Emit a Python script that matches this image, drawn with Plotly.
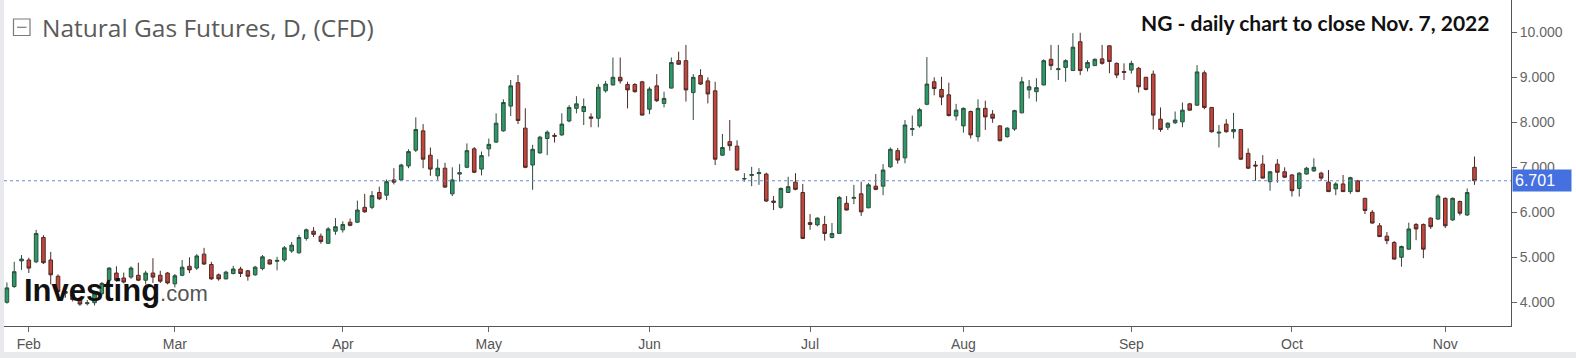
import pandas as pd
import plotly.graph_objects as go

# ---- data ----
dates = [d.strftime("%Y-%m-%d") for d in pd.bdate_range("2022-01-27", "2022-11-07")
         if d.strftime("%Y-%m-%d") != "2022-04-15"]

open_ = [4.00,4.35,4.92,4.94,4.90,5.44,4.94,4.58,4.24,4.17,4.09,3.97,3.99,4.19,4.49,4.65,4.54,4.56,4.60,4.49,
         4.65,4.60,4.65,4.41,4.60,4.80,4.76,5.07,4.84,4.61,4.52,4.64,4.74,4.70,4.61,4.75,4.94,4.91,4.94,5.14,
         5.10,5.42,5.58,5.47,5.31,5.58,5.61,5.78,5.78,6.11,6.11,6.44,6.38,6.72,6.72,7.03,7.38,7.81,7.27,6.81,
         6.98,6.41,6.85,7.00,7.41,6.96,7.41,7.56,7.81,8.36,8.88,7.87,7.05,7.32,7.64,7.71,7.72,8.03,8.31,8.24,
         8.12,8.09,8.70,8.83,9.00,8.84,8.84,8.90,8.29,8.81,8.42,8.76,9.37,9.37,8.66,9.04,8.92,8.70,7.27,7.57,
         7.47,6.74,6.82,6.86,6.85,6.25,6.11,6.44,6.67,6.44,5.77,5.72,5.73,5.44,5.53,6.20,6.31,6.41,6.10,6.58,
         6.58,7.01,7.37,7.21,7.84,7.92,8.40,8.90,8.73,8.61,8.14,7.92,8.24,7.68,8.31,8.18,7.92,7.68,7.85,8.21,
         8.72,8.68,8.83,9.40,9.17,9.22,9.15,9.79,9.21,9.26,9.41,9.70,9.31,9.13,9.16,9.20,9.00,9.07,8.07,7.89,
         7.99,8.01,8.41,8.38,9.10,8.33,7.76,7.96,7.79,7.84,7.31,7.05,7.07,6.68,7.07,6.90,6.83,6.53,6.85,6.92,
         6.87,6.67,6.52,6.63,6.46,6.70,6.31,6.00,5.70,5.47,5.33,5.00,5.18,5.73,5.73,5.87,5.85,6.31,5.83,6.24,
         5.94,7.00]
high = [4.44,4.90,5.05,4.99,5.61,5.49,5.12,4.62,4.30,4.22,4.12,4.05,4.22,4.45,4.78,4.80,4.66,4.80,4.88,4.70,
        4.98,4.70,4.67,4.63,4.94,5.00,5.07,5.21,4.90,4.64,4.70,4.81,4.79,4.72,4.81,5.05,4.96,5.01,5.25,5.34,
        5.50,5.64,5.67,5.53,5.67,5.87,5.80,5.86,6.26,6.41,6.47,6.57,6.73,6.98,7.08,7.40,8.11,7.96,7.44,7.18,
        7.10,7.00,7.07,7.53,7.45,7.35,7.64,8.20,8.51,8.94,9.05,8.31,7.50,7.70,7.82,7.76,8.20,8.38,8.58,8.53,
        8.20,8.85,8.92,9.44,9.44,8.90,8.87,8.92,8.79,9.07,8.68,9.44,9.57,9.72,9.07,9.18,9.00,8.90,7.74,8.05,
        7.60,6.87,7.01,6.98,6.88,6.36,6.55,6.79,6.87,6.63,5.96,5.89,5.92,5.76,6.36,6.36,6.61,6.68,6.65,6.85,
        7.07,7.44,7.43,8.05,8.15,8.32,9.45,9.00,9.01,8.88,8.41,8.33,8.26,8.51,8.48,8.27,7.94,7.89,8.28,9.01,
        8.94,8.98,9.40,9.72,9.72,9.40,9.98,9.99,9.38,9.42,9.72,9.71,9.33,9.31,9.37,9.23,9.01,9.15,8.33,8.00,
        8.24,8.44,8.43,9.27,9.15,8.34,7.94,8.07,8.21,7.85,7.42,7.14,7.27,6.92,7.18,7.00,6.85,6.89,7.01,7.20,
        6.90,6.94,6.67,6.83,6.79,6.72,6.32,6.05,5.76,5.56,5.36,5.26,5.77,5.76,5.75,5.89,6.40,6.33,6.33,6.26,
        6.53,7.24]
low = [3.97,4.32,4.72,4.65,4.87,4.85,4.40,4.20,4.10,4.02,3.92,3.93,3.93,4.15,4.45,4.46,4.42,4.52,4.47,4.40,
       4.43,4.43,4.40,4.33,4.58,4.65,4.72,4.83,4.50,4.48,4.51,4.62,4.56,4.48,4.59,4.71,4.84,4.71,4.90,5.10,
       5.08,5.37,5.45,5.30,5.30,5.50,5.55,5.69,5.76,5.99,6.07,6.27,6.27,6.62,6.70,6.98,7.34,6.98,6.81,6.72,
       6.54,6.36,6.68,6.98,6.87,6.82,7.24,7.54,7.79,8.14,7.96,6.98,6.50,7.30,7.27,7.55,7.70,8.00,8.20,7.94,
       7.89,7.89,8.66,8.82,8.86,8.31,8.66,8.15,8.18,8.45,8.33,8.75,9.28,8.46,8.05,8.83,8.42,7.05,7.25,7.37,
       6.92,6.68,6.58,6.61,6.23,6.05,6.08,6.43,6.49,5.41,5.61,5.69,5.37,5.42,5.52,6.04,6.18,5.92,6.09,6.49,
       6.38,6.99,7.08,7.09,7.70,7.88,8.38,8.60,8.38,8.13,8.04,7.77,7.64,7.57,7.83,7.99,7.58,7.66,7.81,8.20,
       8.53,8.46,8.82,9.16,8.94,8.90,9.14,9.05,9.13,9.25,9.28,9.09,8.98,8.94,9.08,8.66,8.71,7.84,7.79,7.83,
       7.96,7.89,8.26,8.37,8.29,7.77,7.44,7.77,7.64,7.16,6.96,6.70,6.75,6.48,6.66,6.76,6.35,6.35,6.84,6.90,
       6.70,6.45,6.38,6.45,6.41,6.45,5.96,5.75,5.45,5.29,4.95,4.79,5.17,5.38,4.98,5.63,5.83,5.65,5.81,5.93,
       5.92,6.61]
close = [4.32,4.68,4.96,4.76,5.53,4.88,4.61,4.24,4.20,4.06,3.96,3.99,4.19,4.42,4.76,4.49,4.45,4.76,4.49,4.65,
         4.56,4.47,4.43,4.59,4.78,4.72,5.03,4.85,4.52,4.52,4.67,4.74,4.64,4.58,4.78,5.01,4.85,4.93,5.21,5.27,
         5.44,5.61,5.51,5.35,5.63,5.68,5.73,5.71,6.05,6.01,6.37,6.30,6.68,6.67,7.05,7.35,7.84,7.18,6.96,6.98,
         6.56,6.72,6.88,7.37,6.89,7.26,7.51,7.98,8.44,8.81,8.04,7.00,7.40,7.67,7.78,7.69,7.96,8.33,8.41,8.35,
         8.09,8.78,8.85,9.00,8.92,8.72,8.68,8.16,8.74,8.48,8.53,9.33,9.29,8.72,9.00,8.85,8.63,7.18,7.44,7.48,
         6.94,6.75,6.84,6.88,6.25,6.22,6.53,6.57,6.51,5.42,5.73,5.87,5.53,5.53,6.33,6.05,6.33,6.01,6.61,6.51,
         6.94,7.40,7.16,7.94,7.86,8.28,8.85,8.75,8.56,8.15,8.27,8.31,7.72,8.31,8.12,8.09,7.59,7.87,8.26,8.90,
         8.79,8.77,9.37,9.26,9.19,9.37,9.67,9.15,9.33,9.40,9.31,9.35,9.05,9.11,9.31,8.79,8.73,8.16,7.84,7.98,
         8.05,8.27,8.27,9.12,8.33,7.79,7.78,7.79,7.84,7.18,6.98,7.03,6.76,6.90,6.89,6.78,6.48,6.87,6.98,7.00,
         6.76,6.46,6.63,6.46,6.77,6.46,6.04,5.76,5.46,5.37,4.96,5.24,5.63,5.63,5.18,5.68,6.36,5.70,6.31,5.98,
         6.44,6.701]

month_labels = ["Feb", "Mar", "Apr", "May", "Jun", "Jul", "Aug", "Sep", "Oct", "Nov"]
y_ticks = [4, 5, 6, 7, 8, 9, 10]
last_price = close[-1]

title_text = "Natural Gas Futures, D, (CFD)"
note_text = "NG - daily chart to close Nov. 7, 2022"

# ---- layout geometry ----
W, H = 1576, 358
ML, MR, MT, MB = 4, 65, 0, 32
PW, PH = W - ML - MR, H - MT - MB

def px_x(p):
    return (p - ML) / PW

def px_y(p):
    return (MT + PH - p) / PH

# first trading day of each month shown on axis
month_firsts = []
seen = set()
for d in dates:
    key = d[:7]
    if key not in seen:
        seen.add(key)
        if key != "2022-01":
            month_firsts.append(d)

fig = go.Figure()
fig.add_trace(go.Candlestick(
    x=dates, open=open_, high=high, low=low, close=close,
    increasing=dict(fillcolor="#2a9a68", line=dict(color="#2f4d3d", width=1)),
    decreasing=dict(fillcolor="#c4453b", line=dict(color="#4e2a26", width=1)),
    showlegend=False, hoverinfo="skip",
))

fig.update_layout(
    width=W, height=H,
    margin=dict(l=ML, r=MR, t=MT, b=MB),
    paper_bgcolor="white", plot_bgcolor="white",
    showlegend=False,
    xaxis=dict(
        type="category",
        range=[-0.4, 206.0],
        rangeslider=dict(visible=False),
        tickvals=month_firsts, ticktext=month_labels,
        ticks="outside", ticklen=5, tickcolor="#666",
        showline=True, linecolor="#555", linewidth=1,
        showgrid=False, zeroline=False, automargin=False,
        tickfont=dict(family="Liberation Sans, Arial", size=14, color="#555"),
    ),
    yaxis=dict(
        side="right",
        range=[3.473, 10.718],
        tickvals=y_ticks, tickformat=".3f",
        ticks="outside", ticklen=5, tickcolor="#666",
        showline=True, linecolor="#555", linewidth=1,
        showgrid=False, zeroline=False, automargin=False,
        tickfont=dict(family="Liberation Sans, Arial", size=14, color="#666"),
    ),
)

shapes = []
# last price dotted line
shapes.append(dict(type="line", xref="paper", yref="y", x0=0, x1=1,
                   y0=last_price, y1=last_price,
                   line=dict(color="#6a8cc8", width=1, dash="dot")))
# gray page strips
shapes.append(dict(type="rect", xref="paper", yref="paper",
                   x0=px_x(0), x1=px_x(ML), y0=px_y(H), y1=px_y(0),
                   fillcolor="#e7e9ec", line=dict(width=0), layer="below"))
shapes.append(dict(type="rect", xref="paper", yref="paper",
                   x0=px_x(0), x1=px_x(W), y0=px_y(H), y1=px_y(352),
                   fillcolor="#e9eaec", line=dict(width=0), layer="below"))
# collapse icon next to the title
shapes.append(dict(type="rect", xref="paper", yref="paper",
                   x0=px_x(13.5), x1=px_x(30), y0=px_y(35.5), y1=px_y(19),
                   line=dict(color="#7a7a7a", width=1.2), fillcolor="rgba(0,0,0,0)"))
shapes.append(dict(type="line", xref="paper", yref="paper",
                   x0=px_x(17), x1=px_x(26.5), y0=px_y(27.3), y1=px_y(27.3),
                   line=dict(color="#7a7a7a", width=1.2)))
fig.update_layout(shapes=shapes)

annotations = [
    dict(text=title_text, xref="paper", yref="paper", x=px_x(40), y=px_y(28),
         xanchor="left", yanchor="middle", showarrow=False,
         font=dict(family="Open Sans", size=24.5, color="#5a5a5a")),
    dict(text="<b>" + note_text + "</b>", xref="paper", yref="paper",
         x=px_x(1491), y=px_y(22), xanchor="right", yanchor="middle", showarrow=False,
         font=dict(family="Lato", size=21, color="#111")),
    dict(text="<b>Investing</b><span style='font-size:22px;color:#555'>.com</span>",
         xref="paper", yref="paper", x=px_x(22), y=px_y(290),
         xanchor="left", yanchor="middle", showarrow=False,
         font=dict(family="Liberation Sans, Arial", size=31, color="#111")),
    dict(text=f"{last_price:.3f}", xref="paper", yref="y", x=px_x(1512), y=last_price,
         xanchor="left", yanchor="middle", showarrow=False,
         font=dict(family="Liberation Sans, Arial", size=16, color="white"),
         bgcolor="#4470e0", borderpad=2, width=54, align="left"),
]
fig.update_layout(annotations=annotations)

fig.write_html("out.html",
               config={"displayModeBar": False},
               post_script="document.body.style.margin='0px';document.body.style.overflow='hidden';")
